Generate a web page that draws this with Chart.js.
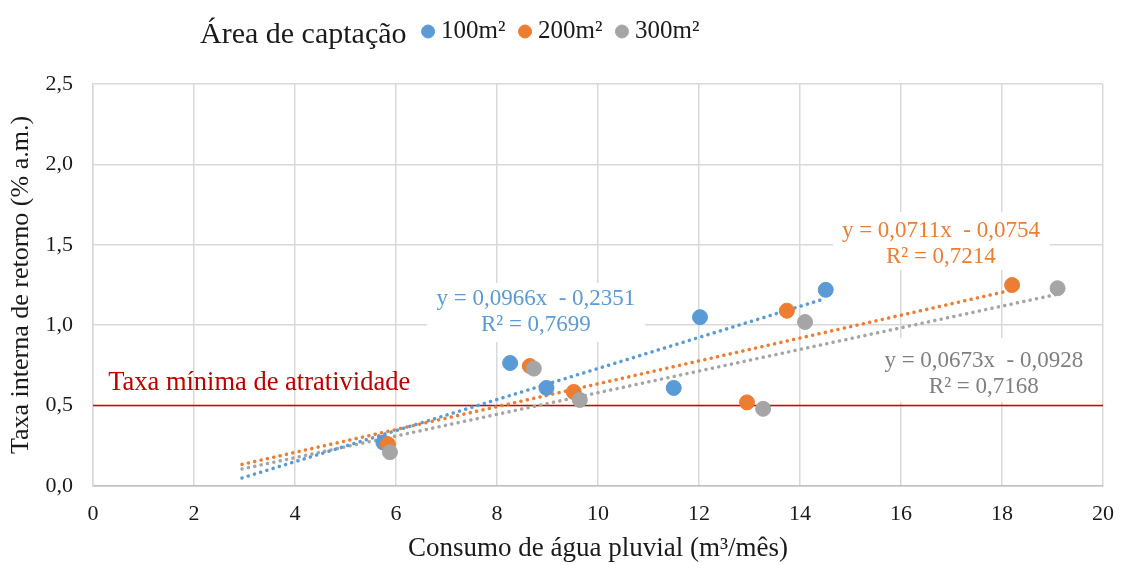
<!DOCTYPE html>
<html>
<head>
<meta charset="utf-8">
<script src="https://cdn.jsdelivr.net/npm/chart.js@4.4.0/dist/chart.umd.min.js"></script>
<style>
  html, body { margin: 0; padding: 0; background: #fff; }
  #wrap { width: 1123px; height: 565px; }
</style>
</head>
<body>
<div id="wrap"><canvas id="chart"></canvas></div>
<script>
// consumo (m³/mês) x TIR (% a.m.) por área de captação
const series = ["100m²", "200m²", "300m²"];
const colors = ["#5B9BD5", "#ED7D31", "#A5A5A5"];
const consumo100 = [5.75, 8.26, 8.98, 11.5, 12.02, 14.51];
const tir100     = [0.27, 0.765, 0.61, 0.61, 1.05, 1.22];
const consumo200 = [5.84, 8.65, 9.52, 12.95, 13.74, 18.2];
const tir200     = [0.26, 0.746, 0.585, 0.52, 1.09, 1.25];
const consumo300 = [5.88, 8.73, 9.64, 13.27, 14.1, 19.1];
const tir300     = [0.21, 0.73, 0.535, 0.48, 1.02, 1.23];

// linhas de tendência (y = a·x + b) e R²
const slopes = [0.0966, 0.0711, 0.0673];
const intercepts = [-0.2351, -0.0754, -0.0928];
const r2 = ["0,7699", "0,7214", "0,7168"];
const trendStart = 2.95;

const tma = 0.5; // taxa mínima de atratividade

const xs = [consumo100, consumo200, consumo300];
const ys = [tir100, tir200, tir300];

const fmt = (v, d) => v.toFixed(d).replace(".", ",");
const serif = "'Liberation Serif', 'Times New Roman', serif";
const ink = "#1a1a1a";

const datasets = [];
series.forEach((name, i) => {
  datasets.push({
    type: "scatter",
    label: name,
    data: xs[i].map((x, k) => ({ x: x, y: ys[i][k] })),
    backgroundColor: colors[i],
    borderColor: colors[i],
    pointRadius: 7.5,
    pointHoverRadius: 7.5,
    order: 3 - i
  });
});
series.forEach((name, i) => {
  const xEnd = Math.max(...xs[i]);
  datasets.push({
    type: "line",
    label: "trend " + name,
    data: [trendStart, xEnd].map(x => ({ x: x, y: slopes[i] * x + intercepts[i] })),
    borderColor: colors[i],
    borderWidth: 3.5,
    borderDash: [0.1, 6.4],
    borderCapStyle: "round",
    pointRadius: 0,
    fill: false,
    order: 10
  });
});
datasets.push({
  type: "line",
  label: "tma",
  data: [{ x: 0, y: tma }, { x: 20, y: tma }],
  borderColor: "#D00000",
  borderWidth: 1.5,
  pointRadius: 0,
  fill: false,
  order: 11
});

// caixas de texto das equações (x, y = linha de base da 1ª linha)
const notes = [
  { x: 8.77, y: 1.126, color: colors[0], box: [-109, -22, 218, 59] },
  { x: 16.79, y: 1.549, color: colors[1], box: [-108, -25, 217, 58] },
  { x: 17.64, y: 0.74, color: "#7F7F7F", box: [-104, -29, 210, 64] }
];
notes.forEach((n, i) => {
  n.lines = ["y = " + fmt(slopes[i], 4) + "x  - " + fmt(-intercepts[i], 4), "R² = " + r2[i]];
});

const annotations = {
  id: "annotations",
  beforeDatasetsDraw(chart) {
    const { ctx, scales: { x, y } } = chart;
    ctx.save();
    ctx.fillStyle = "#fff";
    notes.forEach(n => {
      const px = x.getPixelForValue(n.x), py = y.getPixelForValue(n.y);
      ctx.fillRect(px + n.box[0], py + n.box[1], n.box[2], n.box[3]);
    });
    ctx.restore();
  },
  afterDatasetsDraw(chart) {
    const { ctx, scales: { x, y } } = chart;
    ctx.save();
    ctx.font = "23px " + serif;
    ctx.textAlign = "center";
    ctx.textBaseline = "alphabetic";
    notes.forEach(n => {
      const px = x.getPixelForValue(n.x), py = y.getPixelForValue(n.y);
      ctx.fillStyle = n.color;
      ctx.fillText(n.lines[0], px, py);
      ctx.fillText(n.lines[1], px, py + 26);
    });
    ctx.fillStyle = "#C00000";
    ctx.textAlign = "left";
    ctx.font = "26.5px " + serif;
    ctx.fillText("Taxa mínima de atratividade", x.getPixelForValue(0.3), y.getPixelForValue(0.597));
    // título da legenda
    ctx.fillStyle = ink;
    ctx.font = "30px " + serif;
    ctx.fillText("Área de captação", 200, 43);
    ctx.restore();
  }
};

// legenda: altura fixa e itens deslocados à direita do título
const legendTweak = {
  id: "legendTweak",
  beforeInit(chart) {
    const legend = chart.legend;
    const fit = legend.fit;
    legend.fit = function () {
      fit.call(this);
      this.height = 84;
    };
    const draw = legend.draw;
    legend.draw = function () {
      this.ctx.save();
      this.ctx.translate(12, 0);
      draw.call(this);
      this.ctx.restore();
    };
  }
};

new Chart(document.getElementById("chart"), {
  type: "scatter",
  data: { datasets: datasets },
  options: {
    responsive: true,
    maintainAspectRatio: false,
    animation: false,
    layout: { padding: { left: 0, right: 20, top: 0, bottom: 0 } },
    plugins: {
      tooltip: { enabled: false },
      legend: {
        position: "top",
        labels: {
          filter: item => series.includes(item.text),
          sort: (a, b) => a.text.localeCompare(b.text),
          usePointStyle: true,
          pointStyle: "circle",
          boxWidth: 1,
          boxHeight: 9.2,
          padding: 19,
          color: ink,
          font: { family: serif, size: 25 }
        }
      }
    },
    scales: {
      x: {
        type: "linear",
        min: 0,
        max: 20,
        ticks: { stepSize: 2, color: ink, font: { family: serif, size: 22 }, padding: 15 },
        grid: { color: "#D9D9D9", lineWidth: 1.5, drawTicks: false },
        border: { color: "#BFBFBF", width: 1.5 },
        title: { display: true, text: "Consumo de água pluvial (m³/mês)", color: ink, font: { family: serif, size: 27 }, padding: { top: 0, bottom: 0 } },
        afterFit: s => { s.height = 79; s.paddingLeft = 0; s.paddingRight = 0; }
      },
      y: {
        min: 0,
        max: 2.5,
        ticks: { stepSize: 0.5, color: ink, font: { family: serif, size: 22 }, padding: 20, callback: v => fmt(v, 1) },
        grid: { color: "#D9D9D9", lineWidth: 1.5, drawTicks: false },
        border: { color: "#D9D9D9", width: 1.5 },
        title: { display: true, text: "Taxa interna de retorno (% a.m.)", color: ink, font: { family: serif, size: 26 }, padding: { top: 6, bottom: 0 } },
        afterFit: s => { s.width = 93; }
      }
    }
  },
  plugins: [legendTweak, annotations]
});
</script>
</body>
</html>
